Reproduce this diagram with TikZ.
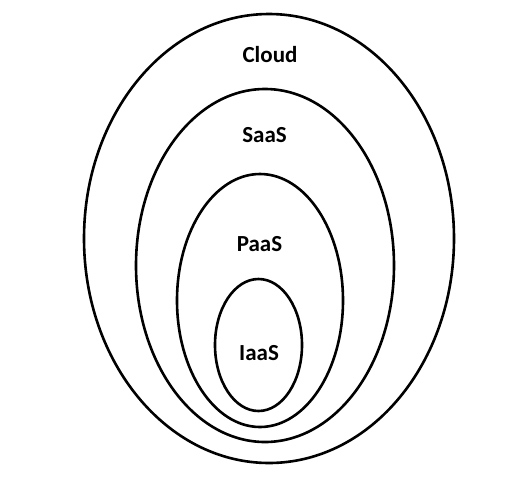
\documentclass[tikz,border=0pt]{standalone}
\usepackage{fontspec}
\setmainfont{Carlito}
\usetikzlibrary{shapes.geometric}

\begin{document}
\begin{tikzpicture}[x=1pt,y=-1pt,
    layer/.style={draw, ellipse, line width=2.6pt, inner sep=0pt},
    tag/.style={font=\bfseries\fontsize{23}{27}\selectfont}]
  \useasboundingbox (0,0) rectangle (512,483);
  % nested layers
  \node[layer, minimum width=370pt, minimum height=449pt] (cloud) at (269,238.5) {};
  \node[layer, minimum width=258pt, minimum height=353pt] (saas) at (265,265.5) {};
  \node[layer, minimum width=166pt, minimum height=253pt] (paas) at (260,300.5) {};
  \node[layer, minimum width=87pt, minimum height=132pt] (iaas) at (258.5,345) {};
  % labels
  \node[tag] (cloud-t) at (270,55) {Cloud};
  \node[tag] (saas-t) at (264.5,135.5) {SaaS};
  \node[tag] (paas-t) at (259.5,244) {PaaS};
  \node[tag] (iaas-t) at (259,353) {IaaS};
\end{tikzpicture}
\end{document}
